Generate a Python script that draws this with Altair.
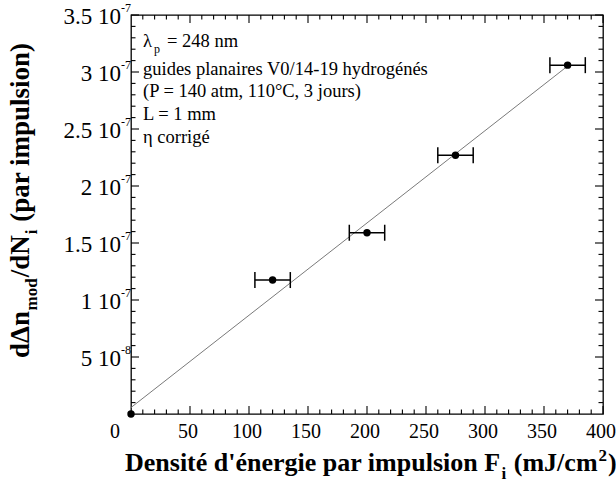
import altair as alt
import pandas as pd

# Measured points: fluence per pulse (mJ/cm^2) and index change per pulse
fluence = [0, 120, 200, 275, 370]
fluence_err = [0, 15, 15, 15, 15]
dn_rate = [0.0, 1.175e-7, 1.59e-7, 2.27e-7, 3.06e-7]

# Axis ticks and labels
x_major = [50, 100, 150, 200, 250, 300, 350, 400]
x_major_labels = ["50", "100", "150", "200", "250", "300", "350", "400"]
x_minor = [v for v in range(10, 400, 10) if v % 50]
y_major = [5e-8, 1e-7, 1.5e-7, 2e-7, 2.5e-7, 3e-7, 3.5e-7]
y_mantissa = ["5 10", "1 10", "1.5 10", "2 10", "2.5 10", "3 10", "3.5 10"]
y_exponent = ["-8", "-7", "-7", "-7", "-7", "-7", "-7"]
y_minor = [k * 1e-8 for k in range(1, 35) if k % 5]

W, H = 472, 399
SERIF = "Liberation Serif"
XTICK_FS = 20
YTICK_FS = 23
EXP_FS = 12
TITLE_FS = 26
YTITLE_FS = 27
SUB_FS = 17
NOTE_FS = 18.5

xs = alt.Scale(domain=[0, 400], nice=False, zero=False)
ys = alt.Scale(domain=[0, 3.5e-7], nice=False, zero=False)

pts = pd.DataFrame({
    "F": fluence,
    "lo": [f - e for f, e in zip(fluence, fluence_err)],
    "hi": [f + e for f, e in zip(fluence, fluence_err)],
    "dn": dn_rate,
})
bars = pts[pts["F"] > 0]

# Times Bold advance widths (per 1000 em) for laying out sub/superscripts
BOLD_W = {" ": 250, "(": 333, ")": 333, "/": 278, "'": 278, "a": 500, "c": 444,
          "d": 556, "e": 444, "é": 444, "g": 500, "i": 278, "J": 500, "l": 278,
          "m": 833, "n": 556, "o": 500, "p": 556, "r": 444, "s": 389, "t": 333,
          "u": 556, "D": 722, "F": 611, "N": 722, "2": 500, "Δ": 612}


def text_width(s, size):
    return sum(BOLD_W.get(c, 500) for c in s) * size / 1000.0


def label(text, x, y, size, bold=False, align="left", baseline="alphabetic", angle=0):
    kw = dict(font=SERIF, fontSize=size, align=align, baseline=baseline,
              color="black", fontWeight="bold" if bold else "normal")
    if angle:
        kw["angle"] = angle
    return alt.Chart(pd.DataFrame({"t": [text]})).mark_text(**kw).encode(
        x=alt.value(x), y=alt.value(y), text="t:N")


def tick_rules(values, axis, side, length):
    df = pd.DataFrame({"v": values})
    base = alt.Chart(df).mark_rule(color="black", strokeWidth=1.1)
    if axis == "x":
        y0, y1 = (H, H - length) if side == "bottom" else (0, length)
        return base.encode(x=alt.X("v:Q", scale=xs, axis=None),
                           y=alt.value(y0), y2=alt.value(y1))
    x0, x1 = (0, length) if side == "left" else (W, W - length)
    return base.encode(y=alt.Y("v:Q", scale=ys, axis=None),
                       x=alt.value(x0), x2=alt.value(x1))


ticks = [
    tick_rules(x_major, "x", "bottom", 8), tick_rules(x_minor, "x", "bottom", 4.5),
    tick_rules(x_major, "x", "top", 8), tick_rules(x_minor, "x", "top", 4.5),
    tick_rules(y_major, "y", "left", 8), tick_rules(y_minor, "y", "left", 4.5),
    tick_rules(y_major, "y", "right", 8), tick_rules(y_minor, "y", "right", 4.5),
]

# Least-squares line through all points
fit = alt.Chart(pts).transform_regression(
    "F", "dn", extent=[0, 370]
).mark_line(color="#7a7a7a", strokeWidth=1).encode(
    x=alt.X("F:Q", scale=xs, axis=None), y=alt.Y("dn:Q", scale=ys, axis=None))

err = alt.Chart(bars).mark_rule(color="black", strokeWidth=1.5).encode(
    x=alt.X("lo:Q", scale=xs, axis=None), x2="hi:Q",
    y=alt.Y("dn:Q", scale=ys, axis=None))
cap_lo = alt.Chart(bars).mark_rule(color="black", strokeWidth=1.5, yOffset=-8, y2Offset=8).encode(
    x=alt.X("lo:Q", scale=xs, axis=None), y=alt.Y("dn:Q", scale=ys, axis=None), y2="dn:Q")
cap_hi = alt.Chart(bars).mark_rule(color="black", strokeWidth=1.5, yOffset=-8, y2Offset=8).encode(
    x=alt.X("hi:Q", scale=xs, axis=None), y=alt.Y("dn:Q", scale=ys, axis=None), y2="dn:Q")
dots = alt.Chart(pts).mark_circle(color="black", opacity=1, size=55).encode(
    x=alt.X("F:Q", scale=xs, axis=None), y=alt.Y("dn:Q", scale=ys, axis=None))

# Tick labels
xlab = alt.Chart(pd.DataFrame({"v": x_major, "t": x_major_labels})).mark_text(
    font=SERIF, fontSize=XTICK_FS, baseline="alphabetic", align="center", color="black", dx=-2
).encode(x=alt.X("v:Q", scale=xs, axis=None), y=alt.value(H + 24), text="t:N")
origin_lab = label("0", -16, H + 24, XTICK_FS, align="center")
ydf = pd.DataFrame({"v": y_major, "m": y_mantissa, "e": y_exponent})
ylab_m = alt.Chart(ydf).mark_text(
    font=SERIF, fontSize=YTICK_FS, baseline="middle", align="right", color="black", dy=2
).encode(x=alt.value(-10), y=alt.Y("v:Q", scale=ys, axis=None), text="m:N")
ylab_e = alt.Chart(ydf).mark_text(
    font=SERIF, fontSize=EXP_FS, baseline="alphabetic", align="left", color="black", dy=-3
).encode(x=alt.value(-10), y=alt.Y("v:Q", scale=ys, axis=None), text="e:N")


def run_segments(segs, start, step_sign, main_fs, place):
    """Lay out a title made of normal, subscript (1) and superscript (2) runs."""
    out, pos = [], start
    for s, kind in segs:
        lead = len(s) - len(s.lstrip(" "))
        if lead:
            pos += step_sign * text_width(" " * lead, main_fs)
            s = s.lstrip(" ")
        size = main_fs if kind == 0 else SUB_FS
        gap = 0 if kind == 0 else 1
        out.append(place(s, pos + step_sign * gap, kind, size))
        pos += step_sign * (text_width(s, size) + 2 * gap)
    return out


# X axis title with subscript and superscript
x_base = H + 57
xt = run_segments(
    [("Densité d'énergie par impulsion F", 0), ("i", 1), (" (mJ/cm", 0), ("2", 2), (")", 0)],
    -6, 1, TITLE_FS,
    lambda s, p, k, size: label(s, p, x_base + (8 if k == 1 else -10 if k == 2 else 0),
                                size, bold=True))

# Y axis title, rotated, with subscripts
y_base = -102
yt = run_segments(
    [("dΔn", 0), ("mod", 1), ("/dN", 0), ("i", 1), (" (par impulsion)", 0)],
    343, -1, YTITLE_FS,
    lambda s, p, k, size: label(s, y_base + (8 if k == 1 else 0), p, size,
                                bold=True, angle=270))

# Notes in the upper-left corner
nx = 12
notes = [
    label("λ", nx, 32, NOTE_FS),
    label("p", nx + 11, 38, 12),
    label("= 248 nm", nx + 24, 32, NOTE_FS),
    label("guides planaires V0/14-19 hydrogénés", nx, 60, NOTE_FS),
    label("(P = 140 atm, 110°C, 3 jours)", nx, 82, NOTE_FS),
    label("L = 1 mm", nx, 105, NOTE_FS),
    label("η corrigé", nx, 128, NOTE_FS),
]

chart = alt.layer(
    *ticks, fit, err, cap_lo, cap_hi, dots, xlab, origin_lab, ylab_m, ylab_e,
    *xt, *yt, *notes
).properties(
    width=W, height=H,
    padding={"left": 131, "top": 15, "right": 13, "bottom": 75},
    autosize="none",
    background="white",
).configure_view(stroke="black", strokeWidth=1.3)

chart.save("out.html", embed_options={"renderer": "svg", "actions": False})
